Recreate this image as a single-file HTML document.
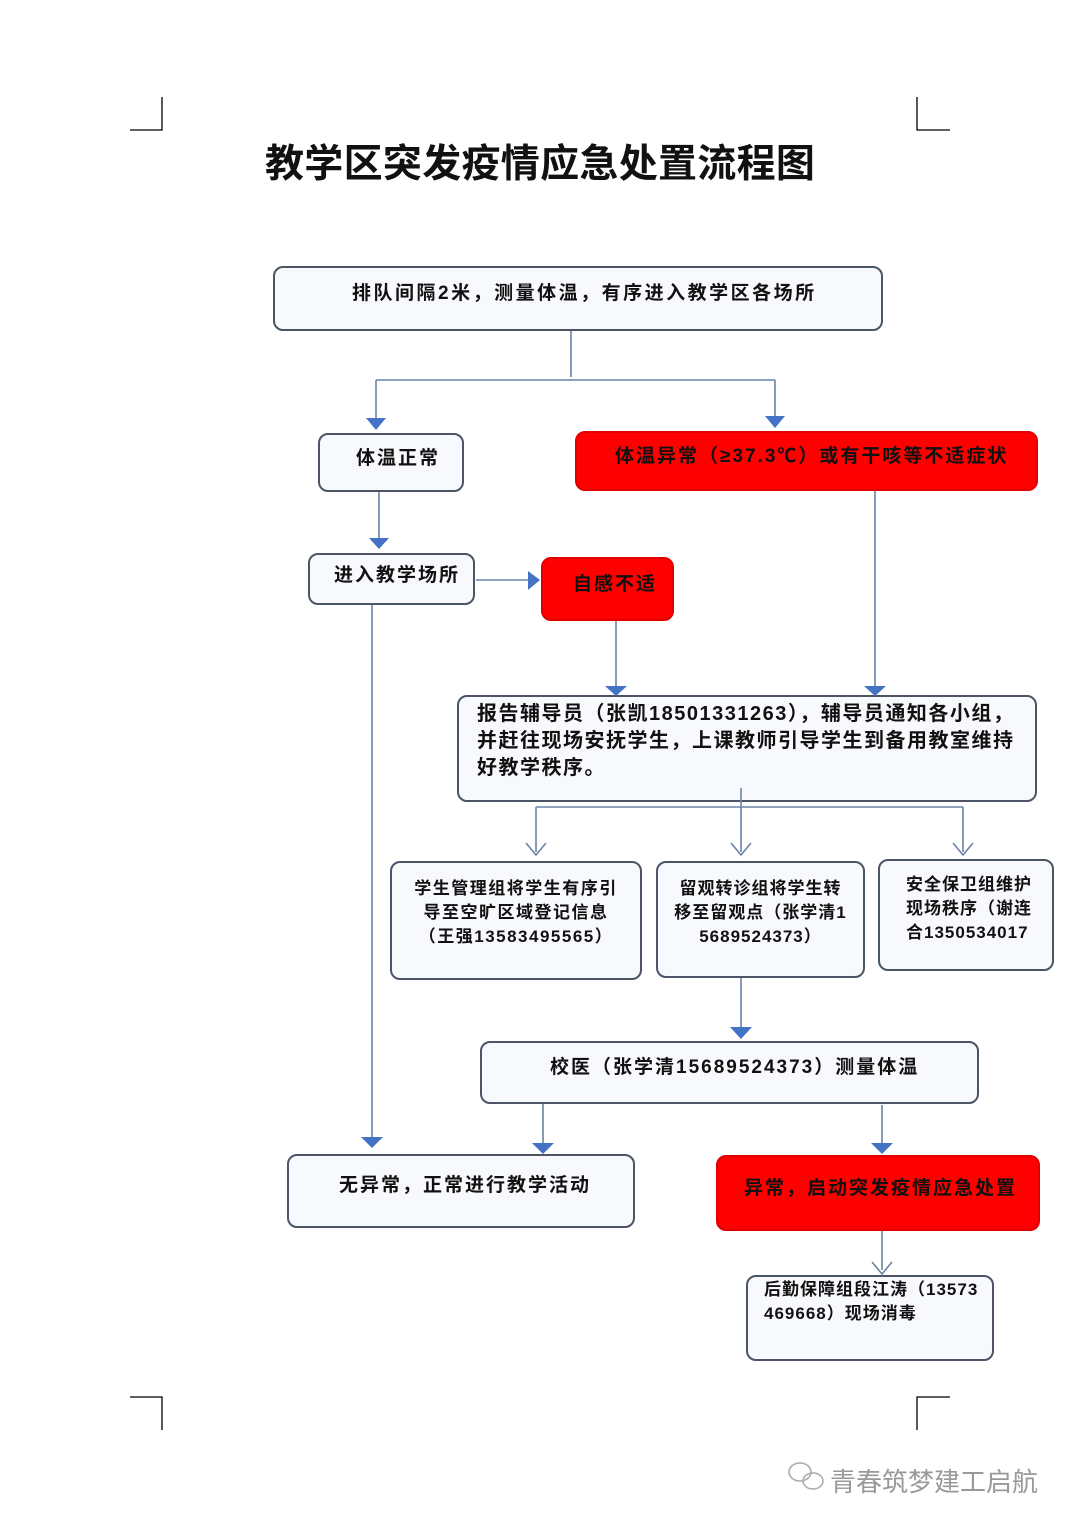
<!DOCTYPE html>
<html><head><meta charset="utf-8"><style>
body{margin:0;width:1080px;height:1527px;background:#fff;position:relative;overflow:hidden;font-family:"Liberation Sans","Noto Sans CJK SC",sans-serif;}
.b{position:absolute;box-sizing:border-box;border:2px solid #4b5566;border-radius:10px;background:#f7f9fc;font-weight:bold;font-size:19px;color:#111;white-space:nowrap;letter-spacing:2px;}
.r{background:#fe0000;border-color:#e00000;}
.t{position:absolute;font-weight:bold;}
</style></head><body>
<div class="t" style="left:265px;top:133px;font-size:39px;color:#111;letter-spacing:0.3px;">教学区突发疫情应急处置流程图</div>
<div class="b" style="left:273px;top:266px;width:610px;height:65px;padding:10px 0 0 77px;letter-spacing:2.5px;">排队间隔2米，测量体温，有序进入教学区各场所</div>
<div class="b" style="left:318px;top:433px;width:146px;height:59px;padding:8px 0 0 36px;">体温正常</div>
<div class="b r" style="left:575px;top:431px;width:463px;height:60px;padding:8px 0 0 38px;">体温异常（≥37.3℃）或有干咳等不适症状</div>
<div class="b" style="left:308px;top:553px;width:167px;height:52px;padding:5px 0 0 24px;">进入教学场所</div>
<div class="b r" style="left:541px;top:557px;width:133px;height:64px;padding:10px 0 0 30px;">自感不适</div>
<div class="b" style="left:457px;top:695px;width:580px;height:107px;padding:4px 0 0 18px;line-height:27px;font-size:20px;letter-spacing:1.5px;">报告辅导员（张凯18501331263），辅导员通知各小组，<br>并赶往现场安抚学生，上课教师引导学生到备用教室维持<br>好教学秩序。</div>
<div class="b" style="left:390px;top:861px;width:252px;height:119px;padding:14px 0 0 0;font-size:17px;line-height:24px;text-align:center;letter-spacing:1.5px;">学生管理组将学生有序引<br>导至空旷区域登记信息<br>（王强13583495565）</div>
<div class="b" style="left:656px;top:861px;width:209px;height:117px;padding:14px 0 0 0;font-size:17px;line-height:24px;text-align:center;letter-spacing:1px;">留观转诊组将学生转<br>移至留观点（张学清1<br>5689524373）</div>
<div class="b" style="left:878px;top:859px;width:176px;height:112px;padding:12px 0 0 26px;font-size:17px;line-height:24px;letter-spacing:1px;">安全保卫组维护<br>现场秩序（谢连<br>合1350534017</div>
<div class="b" style="left:480px;top:1041px;width:499px;height:63px;padding:9px 0 0 68px;">校医（张学清15689524373）测量体温</div>
<div class="b" style="left:287px;top:1154px;width:348px;height:74px;padding:14px 0 0 50px;">无异常，正常进行教学活动</div>
<div class="b r" style="left:716px;top:1155px;width:324px;height:76px;padding:16px 0 0 26px;">异常，启动突发疫情应急处置</div>
<div class="b" style="left:746px;top:1275px;width:248px;height:86px;padding:1px 0 0 16px;font-size:17px;line-height:24px;letter-spacing:1px;">后勤保障组段江涛（13573<br>469668）现场消毒</div>
<div style="position:absolute;left:830px;top:1462px;font-size:26px;color:#999;">青春筑梦建工启航</div>
<svg width="1080" height="1527" style="position:absolute;left:0;top:0" fill="none">
<g stroke="#aaa" stroke-width="1.5"><ellipse cx="800" cy="1472" rx="11" ry="9"/><ellipse cx="813" cy="1481" rx="10" ry="8"/></g>
<g stroke="#000" stroke-width="1.3">
<path d="M130 130H162V97M950 130H917V97M130 1397H162V1430M950 1397H917V1430"/>
</g>
<g stroke="#6a84a8" stroke-width="1.6">
<path d="M571 331V377M376 380H775M376 380V420M775 380V418M379 492V540M476 580H530M372 605V1138M616 621V686M875 491V686M741 788V852M536 807H963M536 807V852M963 807V852M741 978V1028M543 1104V1144M882 1105V1144M882 1231V1270"/>
<path d="M526 843L536 855L546 843M731 843L741 855L751 843M953 843L963 855L973 843M872 1262L882 1274L892 1262"/>
</g>
<g fill="#4472c4">
<path d="M366 418H386L376 430ZM765 416H785L775 428ZM369 538H389L379 549ZM528 571V590L540 580ZM361 1137H383L372 1148ZM605 686H627L616 696ZM864 686H886L875 696ZM730 1027H752L741 1039ZM532 1143H554L543 1154ZM871 1143H893L882 1154Z"/>
</g>
</svg>
</body></html>
